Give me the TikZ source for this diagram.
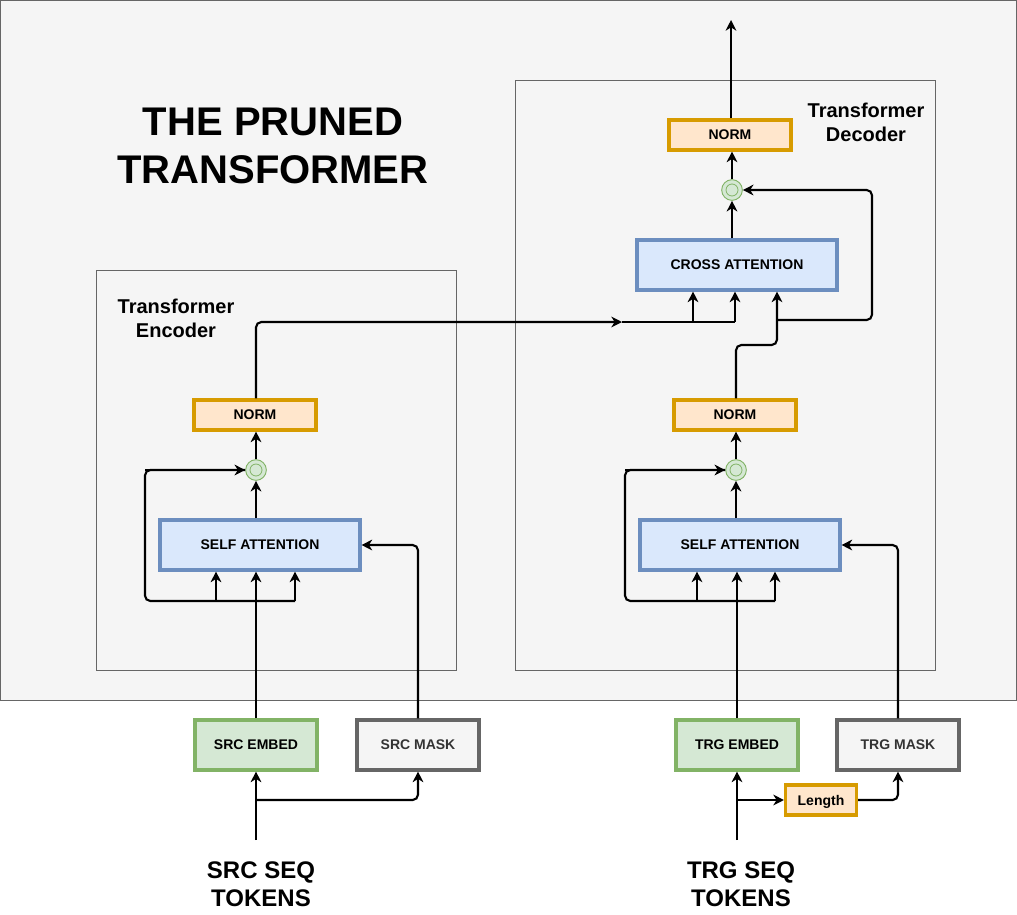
\documentclass[tikz,border=0pt]{standalone}
\usepackage{fontspec}
\setmainfont{Liberation Sans}
\usetikzlibrary{arrows.meta}
\definecolor{bgc}{HTML}{F5F5F5}
\definecolor{bgd}{HTML}{666666}
\definecolor{orf}{HTML}{FFE6CC}
\definecolor{ord}{HTML}{D79B00}
\definecolor{blf}{HTML}{DAE8FC}
\definecolor{bld}{HTML}{6C8EBF}
\definecolor{grf}{HTML}{D5E8D4}
\definecolor{grd}{HTML}{82B366}
\definecolor{mtx}{HTML}{333333}
\begin{document}
\begin{tikzpicture}[x=0.75pt,y=-0.75pt,
  panel/.style={fill=bgc,draw=bgd,line width=0.75pt},
  boxbase/.style={draw,line width=2.3pt,inner sep=0pt,text depth=0pt,font=\fontsize{10.5}{12.6}\selectfont\bfseries},
  normbox/.style={boxbase,fill=orf,draw=ord,minimum width=91.5pt,minimum height=22.5pt},
  attbox/.style={boxbase,fill=blf,draw=bld,minimum width=150pt,minimum height=37.5pt},
  embbox/.style={boxbase,fill=grf,draw=grd,minimum width=91.5pt,minimum height=37.5pt},
  maskbox/.style={boxbase,fill=bgc,draw=bgd,text=mtx,minimum width=91.5pt,minimum height=37.5pt},
  lenbox/.style={boxbase,fill=orf,draw=ord,minimum width=53.25pt,minimum height=22.5pt},
  addc/.style={circle,fill=grf,draw=grd,line width=0.7pt,minimum size=15.5pt,inner sep=0pt},
  addin/.style={circle,draw=grd,line width=0.6pt,minimum size=9pt,inner sep=0pt},
  arr/.style={line width=1.6pt,rounded corners=4pt,-{Stealth[length=8pt,width=8pt,inset=2.5pt]}},
  ln/.style={line width=1.6pt,rounded corners=4pt},
  lbl/.style={align=center,font=\fontsize{15}{18}\selectfont\bfseries},
  tok/.style={align=center,font=\fontsize{18}{21}\selectfont\bfseries}
]
\useasboundingbox (0,0) rectangle (1017,914);
% panels
\draw[panel] (0.5,0.5) rectangle (1016.5,700);
\draw[panel] (96,270) rectangle (456,670);
\draw[panel] (515,80) rectangle (935,670);
% title and labels
\node[align=center,font=\fontsize{30}{36}\selectfont\bfseries] (title) at (273,146) {THE PRUNED\\TRANSFORMER};
\node[lbl] (enclbl) at (176,318) {Transformer\\Encoder};
\node[lbl] (declbl) at (866,122) {Transformer\\Decoder};
% encoder
\node[normbox] (enorm) at (255,415) {NORM};
\node[addc] (ecirc) at (256,470) {};
\node[addin] (ecirci) at (256,470) {};
\node[attbox] (esa) at (260,545) {SELF ATTENTION};
\node[embbox] (semb) at (256,745) {SRC EMBED};
\node[maskbox] (smask) at (418,745) {SRC MASK};
\node[tok] (stok) at (261,884) {SRC SEQ\\TOKENS};
% decoder
\node[normbox] (tnorm) at (730,135) {NORM};
\node[addc] (dcirc2) at (732,190) {};
\node[addin] (dcirc2i) at (732,190) {};
\node[attbox] (ca) at (737,265) {CROSS ATTENTION};
\node[normbox] (dnorm) at (735,415) {NORM};
\node[addc] (dcirc) at (736,470) {};
\node[addin] (dcirci) at (736,470) {};
\node[attbox] (dsa) at (740,545) {SELF ATTENTION};
\node[embbox] (temb) at (737,745) {TRG EMBED};
\node[maskbox] (tmask) at (898,745) {TRG MASK};
\node[lenbox] (len) at (821,800) {Length};
\node[tok] (ttok) at (741,884) {TRG SEQ\\TOKENS};
% coordinates
\coordinate (sin) at (256,840);
\coordinate (sbr) at (256,800);
\coordinate (tin) at (737,840);
\coordinate (tbr) at (737,800);
\coordinate (ej) at (256,601);
\coordinate (el) at (145,601);
\coordinate (er) at (295,601);
\coordinate (eml) at (216,601);
\coordinate (dj) at (737,601);
\coordinate (dl) at (625,601);
\coordinate (dr) at (775,601);
\coordinate (dml) at (697,601);
\coordinate (xmid) at (622,322);
\coordinate (xa) at (693,322);
\coordinate (xb) at (735,322);
\coordinate (xc) at (777,345);
\coordinate (xd) at (777,320);
\coordinate (xe) at (872,320);
\coordinate (out) at (731,20);
% encoder connectors
\draw[arr] (sin) -- (semb.south);
\draw[arr] (sbr) -| (smask.south);
\draw[arr] (semb.north) -- (semb.north |- esa.south);
\draw[arr] (smask.north) |- (esa.east);
\draw[ln] (er) -- (el) -- (el |- ecirc.west) -- (ecirc.west);
\draw[arr] (el |- ecirc.west) -- (ecirc.west);
\draw[arr] (eml) -- (eml |- esa.south);
\draw[arr] (er) -- (er |- esa.south);
\draw[arr] (esa.north -| ecirc.south) -- (ecirc.south);
\draw[arr] (ecirc.north) -- (ecirc.north |- enorm.south);
\draw[arr] (enorm.north -| ecirc.north) |- (xmid);
% decoder connectors
\draw[arr] (tin) -- (temb.south);
\draw[arr] (tbr) -- (len.west);
\draw[arr] (len.east) -| (tmask.south);
\draw[arr] (temb.north) -- (temb.north |- dsa.south);
\draw[arr] (tmask.north) |- (dsa.east);
\draw[ln] (dr) -- (dl) -- (dl |- dcirc.west) -- (dcirc.west);
\draw[arr] (dl |- dcirc.west) -- (dcirc.west);
\draw[arr] (dml) -- (dml |- dsa.south);
\draw[arr] (dr) -- (dr |- dsa.south);
\draw[arr] (dsa.north -| dcirc.south) -- (dcirc.south);
\draw[arr] (dcirc.north) -- (dcirc.north |- dnorm.south);
\draw[ln] (xmid) -- (xb);
\draw[arr] (xa) -- (xa |- ca.south);
\draw[arr] (xb) -- (xb |- ca.south);
\draw[arr] (dnorm.north -| dcirc.north) |- (xc) -- (xc |- ca.south);
\draw[arr] (xd) -- (xe) |- (dcirc2.east);
\draw[arr] (ca.north -| dcirc2.south) -- (dcirc2.south);
\draw[arr] (dcirc2.north) -- (dcirc2.north |- tnorm.south);
\draw[arr] (tnorm.north -| out) -- (out);
\end{tikzpicture}
\end{document}
